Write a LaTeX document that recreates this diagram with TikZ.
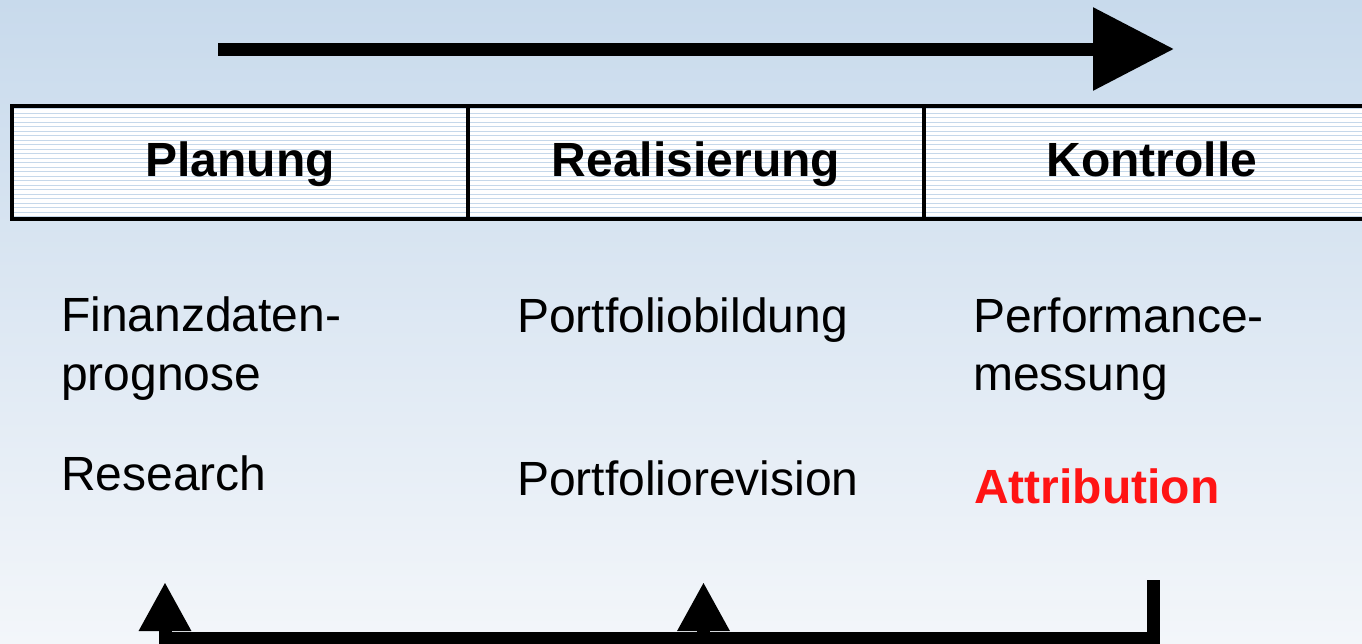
\documentclass[tikz,border=0pt]{standalone}
\usepackage{fontspec}
\setmainfont{Liberation Sans}
\usetikzlibrary{arrows.meta}
\definecolor{bgtop}{RGB}{200,218,236}
\definecolor{bgbot}{RGB}{243,246,250}
\definecolor{stripe}{RGB}{198,216,234}
\definecolor{attr}{RGB}{255,20,20}
\begin{document}
\begin{tikzpicture}[x=1pt,y=-1pt,
  txt/.style={inner sep=0pt, anchor=base west, font=\fontsize{48}{57}\selectfont},
  head/.style={inner sep=0pt, anchor=base, font=\fontsize{48}{57}\selectfont\bfseries},
  bar/.style={line width=13pt},
  frame/.style={line width=4pt},
  stripeline/.style={stripe, line width=1pt}]
\useasboundingbox (0,0) rectangle (1362,643);
\clip (0,0) rectangle (1362,643);
\shade[top color=bgtop, bottom color=bgbot] (0,0) rectangle (1362,643);
% header box
\fill[white] (12,106) rectangle (1380,219);
\foreach \yy in {108.5,113,...,217} \draw[stripeline] (12,\yy) -- (1380,\yy);
\draw[frame] (1380,106) -- (12,106) -- (12,219) -- (1380,219);
\draw[frame] (468,106) -- (468,219);
\draw[frame] (924,106) -- (924,219);
\node[head] (plan) at (240,176.7) {Planung};
\node[head] (real) at (696,176.7) {Realisierung};
\node[head] (kont) at (1152,176.7) {Kontrolle};
% top arrow
\coordinate (ts) at (218,49);
\coordinate (te) at (1174,49);
\draw[bar, -{Triangle[length=81pt,width=80pt]}] (ts) -- (te);
% texts
\node[txt] (fin1) at (61,331.7) {Finanzdaten-};
\node[txt] (fin2) at (61,390) {prognose};
\node[txt] (res) at (61,490) {Research};
\node[txt] (pb) at (517,332.7) {Portfoliobildung};
\node[txt] (pr) at (517,495) {Portfoliorevision};
\node[txt] (perf1) at (973,332.7) {Performance-};
\node[txt] (perf2) at (973,390) {messung};
\node[txt, font=\fontsize{48}{57}\selectfont\bfseries, text=attr] (attr) at (974,503.3) {Attribution};
% bottom feedback
\coordinate (rv) at (1153.5,580);
\coordinate (rc) at (1153.5,638.5);
\coordinate (lend) at (158.5,638.5);
\coordinate (lc) at (165,638.5);
\coordinate (mc) at (703.5,638.5);
\coordinate (la) at (165,582);
\coordinate (ma) at (703.5,582);
\draw[bar] (rv) -- (rc) -- (lend);
\draw[bar, -{Triangle[length=49pt,width=49pt]}] (lc) -- (la);
\draw[bar, -{Triangle[length=49pt,width=49pt]}] (mc) -- (ma);
\end{tikzpicture}
\end{document}
